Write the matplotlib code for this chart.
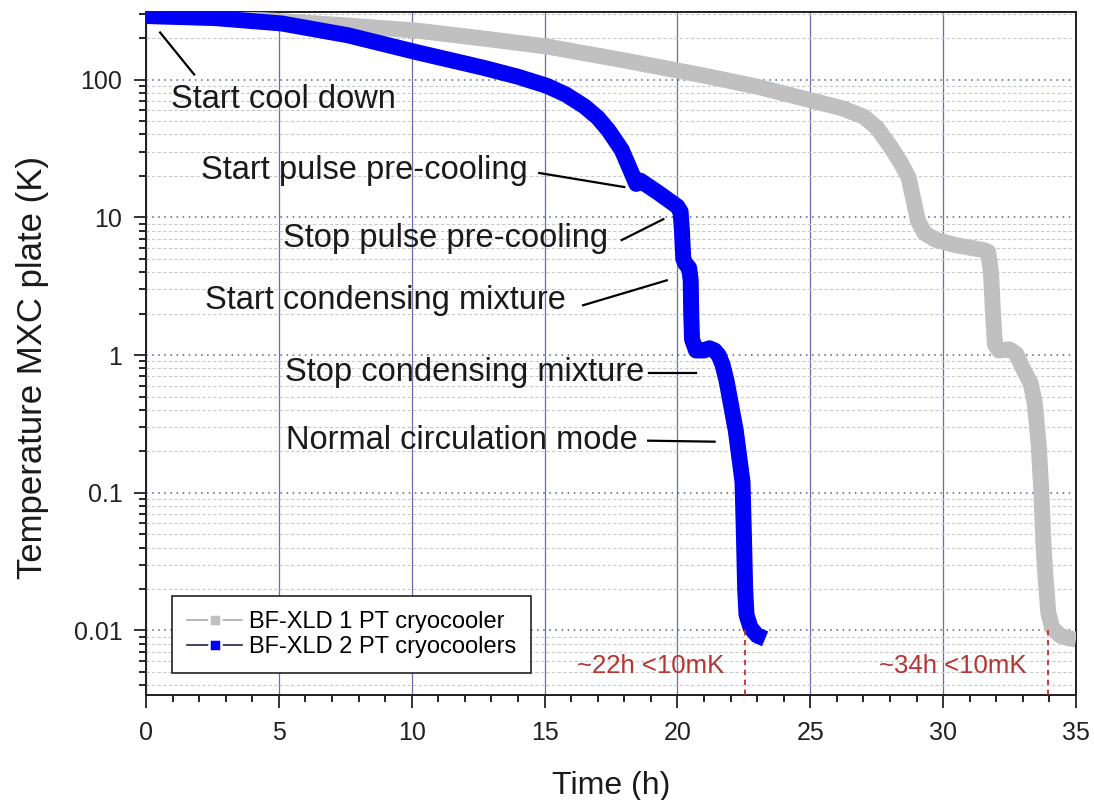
import numpy as np
import matplotlib
matplotlib.use("Agg")
import matplotlib.pyplot as plt
from matplotlib.lines import Line2D
from matplotlib.ticker import LogLocator, MultipleLocator, NullFormatter, FixedLocator

plt.rcParams["font.family"] = ["Liberation Sans", "DejaVu Sans"]

# ---- data ----
time_1pt = [0, 2.6, 5.1, 7.5, 10.2, 12.6, 15.1, 18.0, 20.9, 23.0, 25.0, 26.2,
            27.0, 27.5, 28.0, 28.4, 28.7, 28.9, 29.05, 29.3, 29.7, 30.45,
            31.5, 31.7, 31.8, 31.88, 31.95, 32.1, 32.5, 32.75, 33.0, 33.3,
            33.45, 33.6, 33.7, 33.77, 33.85, 33.96, 34.1, 34.4, 34.7, 35.0]
temp_1pt = [290, 282, 266, 248, 227, 200, 174, 138, 108, 89, 71, 62,
            54, 45, 33, 25, 19.5, 13, 9.5, 7.7, 6.9, 6.3,
            5.8, 5.6, 4.0, 2.0, 1.2, 1.08, 1.1, 1.02, 0.8, 0.62,
            0.45, 0.22, 0.1, 0.045, 0.025, 0.0135, 0.0105, 0.0092, 0.0088, 0.0086]

time_2pt = [0, 2.6, 5.1, 7.6, 10.2, 12.7, 14.0, 15.1, 15.8, 16.5, 17.0, 17.4,
            17.9, 18.35, 18.45, 18.6, 19.3, 20.0, 20.12, 20.17, 20.22, 20.3,
            20.44, 20.5, 20.52, 20.55, 20.7, 21.0, 21.2, 21.4, 21.55, 21.7,
            21.85, 22.2, 22.45, 22.5, 22.55, 22.6, 22.75, 23.0, 23.3]
temp_2pt = [290, 280, 256, 210, 158, 122, 105, 90, 78, 64, 53, 43,
            31, 19.5, 17.5, 18.5, 15, 12, 11, 8, 5, 4.6,
            4.3, 3.5, 2.0, 1.3, 1.08, 1.08, 1.12, 1.08, 1.0, 0.85,
            0.65, 0.28, 0.12, 0.052, 0.02, 0.013, 0.0105, 0.0092, 0.0087]

label_1pt = "BF-XLD 1 PT cryocooler"
label_2pt = "BF-XLD 2 PT cryocoolers"

# time where each system reaches 10 mK
t10mk = [22.55, 33.95]
t10mk_labels = ["~22h <10mK", "~34h <10mK"]

# ---- styling ----
col_gray = "#c0c0c0"
col_blue = "#0000f5"
col_red = "#b83333"
col_txt = "#1a1a1a"

fig = plt.figure(figsize=(10.94, 8), dpi=100)
ax = fig.add_axes([0.1335, 0.13125, 0.85, 0.85375])

ax.set_yscale("log")
ax.set_xlim(0, 35)
ax.set_ylim(0.0034, 310)

# grid
ax.xaxis.set_major_locator(MultipleLocator(5))
ax.xaxis.set_minor_locator(MultipleLocator(1))
ax.yaxis.set_minor_locator(LogLocator(base=10, subs=np.arange(2, 10), numticks=20))
ax.yaxis.set_minor_formatter(NullFormatter())
ax.set_yticks([0.01, 0.1, 1, 10, 100])
ax.set_yticklabels(["0.01", "0.1", "1", "10", "100"])

ax.xaxis.grid(True, which="major", color="#6b6bb0", lw=0.9, ls="-", zorder=0)
ax.yaxis.grid(True, which="major", color="#4f5f8f", lw=1.1, ls=(0, (1, 3)), zorder=0)
ax.yaxis.grid(True, which="minor", color="#c9c9c9", lw=0.8, ls=(0, (3, 2)), zorder=0)
ax.set_axisbelow(True)

# curves
ax.plot(time_1pt, temp_1pt, color=col_gray, lw=11.5, solid_joinstyle="round",
        solid_capstyle="butt", zorder=3)
ax.plot(time_2pt, temp_2pt, color=col_blue, lw=11.5, solid_joinstyle="round",
        solid_capstyle="butt", zorder=4)

# 10 mK markers
y_lo = ax.get_ylim()[0]
for t, lab in zip(t10mk, t10mk_labels):
    ax.plot([t, t], [y_lo, 0.01], color=col_red, lw=1.3, ls=(0, (3, 2.5)), zorder=5)
    ax.text(t - 0.8, 0.0055, lab, color=col_red, fontsize=18.5, ha="right", va="center", zorder=6)

# annotations: text, text position, line start, line end, alignment
annots = [
    ("Start cool down", (0.94, 72), (0.53, 220), (1.81, 109), "left"),
    ("Start pulse pre-cooling", (14.37, 22), (14.8, 21), (18.0, 16.6), "right"),
    ("Stop pulse pre-cooling", (17.4, 7.07), (17.9, 6.84), (19.47, 9.7), "right"),
    ("Start condensing mixture", (15.8, 2.5), (16.45, 2.3), (19.6, 3.49), "right"),
    ("Stop condensing mixture", (18.75, 0.746), (18.94, 0.746), (20.7, 0.746), "right"),
    ("Normal circulation mode", (18.5, 0.239), (18.9, 0.239), (21.4, 0.235), "right"),
]
for txt, (tx, ty), (x0, y0), (x1, y1), ha in annots:
    ax.text(tx, ty, txt, fontsize=23.5, color=col_txt, ha=ha, va="center", zorder=7)
    ax.plot([x0, x1], [y0, y1], color="black", lw=1.6, zorder=7)

# axes, ticks
for s in ax.spines.values():
    s.set_linewidth(1.4)
    s.set_color("#222222")
ax.tick_params(which="major", direction="out", length=9, width=1.3, labelsize=18,
               colors="#222222")
ax.tick_params(which="minor", direction="out", length=5, width=1.2)
ax.tick_params(axis="x", which="major", pad=9.5)
ax.tick_params(axis="y", which="major", pad=8)

axr = ax.twinx()
axr.set_yscale("log")
axr.set_ylim(ax.get_ylim())
axr.yaxis.set_major_locator(FixedLocator([0.01, 0.1, 1, 10, 100]))
axr.yaxis.set_minor_locator(LogLocator(base=10, subs=np.arange(2, 10), numticks=20))
axr.tick_params(which="major", direction="in", length=9, width=1.3, labelright=False)
axr.tick_params(which="minor", direction="in", length=5, width=1.2, labelright=False)

axt = ax.twiny()
axt.set_xlim(ax.get_xlim())
axt.xaxis.set_major_locator(MultipleLocator(5))
axt.xaxis.set_minor_locator(MultipleLocator(1))
axt.tick_params(which="major", direction="in", length=9, width=1.3, labeltop=False)
axt.tick_params(which="minor", direction="in", length=5, width=1.2, labeltop=False)
for a in (axr, axt):
    for s in a.spines.values():
        s.set_linewidth(1.4)
        s.set_color("#222222")

ax.set_xlabel("Time (h)", fontsize=23, color=col_txt, labelpad=19)
ax.set_ylabel("Temperature MXC plate (K)", fontsize=25, color=col_txt)
ax.yaxis.set_label_coords(-0.104, 0.48)

# legend
handles = [
    Line2D([], [], color="#aaaaaa", lw=1.2, marker="s", markersize=8,
           markerfacecolor=col_gray, markeredgecolor="white", markeredgewidth=1.8),
    Line2D([], [], color="#222244", lw=1.2, marker="s", markersize=8,
           markerfacecolor=col_blue, markeredgecolor="white", markeredgewidth=1.8),
]
leg = ax.legend(handles, [label_1pt, label_2pt], loc="lower left",
                bbox_to_anchor=(0.028, 0.032), borderaxespad=0, fontsize=17,
                frameon=True, fancybox=False, framealpha=1, edgecolor="#222222",
                handlelength=2.3, handletextpad=0.3, borderpad=0.65,
                labelspacing=0.1)
leg.get_frame().set_linewidth(1.2)
leg.set_zorder(10)
axt.set_zorder(-1)
axr.set_zorder(-1)
ax.patch.set_visible(True)

fig.savefig("out.png", dpi=100)
